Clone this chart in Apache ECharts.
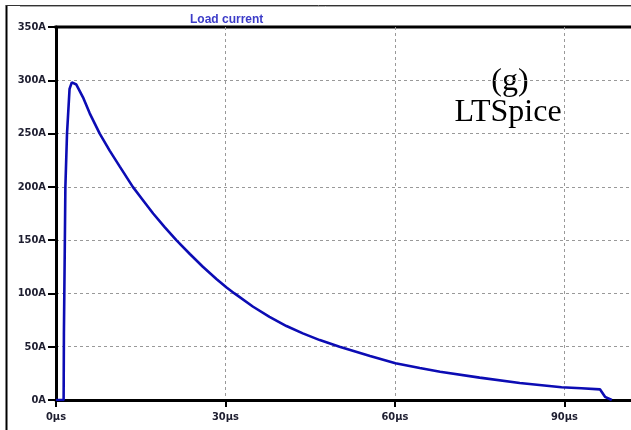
<!DOCTYPE html>
<html>
<head>
<meta charset="utf-8">
<script src="https://cdn.jsdelivr.net/npm/echarts@6/dist/echarts.min.js"></script>
<style>
  html, body { margin: 0; padding: 0; background: #fff; }
  #chart { width: 631px; height: 430px; }
</style>
</head>
<body>
<div id="chart"></div>
<script>
  // load current: time in µs, current in A
  var timeUs = [0, 1.35, 1.4, 1.55, 1.66, 1.95, 2.4, 2.8, 3.1, 3.6, 4.78, 5.97, 7.74, 9.5, 11.3, 13.6, 15.4,
    17.2, 19.2, 21.3, 23.7, 26.0, 28.4, 30.2, 31.6, 34.9, 37.8, 40.8, 43.7, 46.7, 50.2,
    55.6, 60.1, 64.4, 68, 75, 82.1, 89.5, 93, 96.3, 96.6, 97.2, 98.4];
  var currentA = [0, 0, 62, 140, 200, 250, 292, 298, 299, 296, 284, 269, 250, 234, 219, 200, 187.5,
    175, 162.5, 150, 137, 125, 113.5, 105.5, 100, 87.5, 78, 69.4, 62.5, 56.2, 50,
    41.3, 34.4, 30, 26.5, 21, 16, 12, 11, 10, 9.5, 3, 0];
  var xTicks = [0, 30, 60, 90];
  var yTicks = [0, 50, 100, 150, 200, 250, 300, 350];

  var points = timeUs.map(function (t, i) { return [t, currentA[i]]; });

  var labelFont = {
    fontFamily: "'Liberation Sans Narrow', 'DejaVu Sans Condensed', 'Liberation Sans', sans-serif",
    fontWeight: 'bold',
    fontSize: 11,
    color: '#1e1e30'
  };

  var myChart = echarts.init(document.getElementById('chart'));
  var option = {
    animation: false,
    title: {
      text: 'Load current',
      left: 185,
      top: 9,
      textStyle: {
        fontFamily: "'Liberation Sans', Arial, sans-serif",
        fontWeight: 'bold',
        fontSize: 12,
        color: '#3c3cc8'
      }
    },
    grid: {
      left: 56,
      top: 27,
      right: 0,
      bottom: 30,
      containLabel: false
    },
    xAxis: {
      type: 'value',
      min: 0,
      max: 101.8,
      interval: 30,
      axisLine: { show: true, lineStyle: { color: '#000', width: 3 } },
      axisTick: { show: true, length: 7, lineStyle: { color: '#000', width: 2 } },
      axisLabel: Object.assign({
        margin: 12,
        showMaxLabel: false,
        formatter: function (v) { return xTicks.indexOf(v) >= 0 ? v + 'µs' : ''; }
      }, labelFont),
      splitLine: { show: true, showMinLine: false, lineStyle: { color: '#999', type: [3, 3], width: 1 } }
    },
    yAxis: {
      type: 'value',
      min: 0,
      max: 350,
      interval: 50,
      axisLine: { show: true, lineStyle: { color: '#000', width: 3 } },
      axisTick: { show: true, length: 8, lineStyle: { color: '#000', width: 2 } },
      axisLabel: Object.assign({
        margin: 10,
        formatter: function (v) { return yTicks.indexOf(v) >= 0 ? v + 'A' : ''; }
      }, labelFont),
      splitLine: { show: true, showMinLine: false, showMaxLine: false, lineStyle: { color: '#999', type: [3, 3], width: 1 } }
    },
    series: [
      {
        name: 'Load current',
        type: 'line',
        showSymbol: false,
        smooth: false,
        lineStyle: { color: '#0c0cb4', width: 2.6 },
        data: points,
        z: 5
      }
    ],
    graphic: [
      { type: 'line', shape: { x1: 6.5, y1: 5, x2: 6.5, y2: 430 }, style: { stroke: '#000', lineWidth: 2 } },
      { type: 'line', shape: { x1: 6, y1: 5.5, x2: 631, y2: 5.5 }, style: { stroke: '#333', lineWidth: 1 } },
      { type: 'line', shape: { x1: 20, y1: 6.5, x2: 631, y2: 6.5 }, style: { stroke: '#aaa', lineWidth: 1 } },
      { type: 'line', shape: { x1: 54.5, y1: 27, x2: 631, y2: 27 }, style: { stroke: '#000', lineWidth: 3 } },
      {
        type: 'text',
        style: { text: '(g)', x: 510, y: 82, textAlign: 'center', textVerticalAlign: 'middle',
          font: "32px 'Liberation Serif', 'Times New Roman', serif", fill: '#000' }
      },
      {
        type: 'text',
        style: { text: 'LTSpice', x: 508, y: 113, textAlign: 'center', textVerticalAlign: 'middle',
          font: "32px 'Liberation Serif', 'Times New Roman', serif", fill: '#000' }
      }
    ]
  };
  myChart.setOption(option);
</script>
</body>
</html>
